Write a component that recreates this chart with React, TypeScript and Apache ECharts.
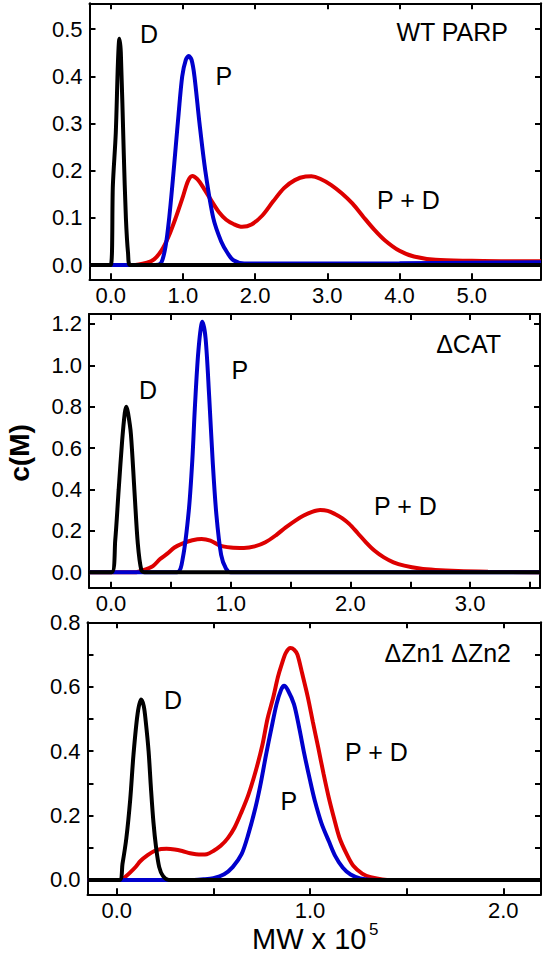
import React, { useEffect, useRef } from "react";
import * as echarts from "echarts";

const FONT = '"Liberation Sans", Arial, Helvetica, sans-serif';
const RED = "#dd0000";
const BLUE = "#0000cc";
const BLACK = "#000000";

// ---- Panel 1: WT PARP ----
const wtD: [number, number][] = [
  [-0.29, 0], [0.0, 0], [0.03, 0.17], [0.07, 0.28], [0.1, 0.43], [0.12, 0.48], [0.14, 0.45],
  [0.18, 0.24], [0.21, 0.1], [0.24, 0.025], [0.27, 0], [5.96, 0],
];
const wtP: [number, number][] = [
  [-0.29, 0], [0.62, 0], [0.7, 0.005], [0.76, 0.04], [0.81, 0.1], [0.86, 0.18], [0.9, 0.25],
  [0.94, 0.32], [0.99, 0.4], [1.04, 0.435], [1.08, 0.443], [1.12, 0.435], [1.16, 0.4],
  [1.23, 0.3], [1.31, 0.2], [1.42, 0.1], [1.53, 0.05], [1.62, 0.025], [1.7, 0.01],
  [1.85, 0.003], [2.5, 0.003], [4.0, 0.004], [5.0, 0.005], [5.96, 0.006],
];
const wtPD: [number, number][] = [
  [-0.29, 0], [0.3, 0], [0.5, 0.005], [0.6, 0.012], [0.7, 0.03], [0.8, 0.06], [0.9, 0.1],
  [1.0, 0.145], [1.07, 0.178], [1.13, 0.189], [1.2, 0.182], [1.3, 0.16], [1.4, 0.135],
  [1.5, 0.112], [1.6, 0.096], [1.7, 0.087], [1.82, 0.081], [1.95, 0.086], [2.1, 0.105],
  [2.25, 0.135], [2.4, 0.163], [2.55, 0.18], [2.7, 0.1875], [2.78, 0.188], [2.9, 0.183],
  [3.05, 0.17], [3.2, 0.152], [3.35, 0.13], [3.5, 0.102], [3.65, 0.075], [3.8, 0.052],
  [4.0, 0.03], [4.2, 0.018], [4.5, 0.011], [5.0, 0.009], [5.5, 0.008], [5.96, 0.008],
];
const wtXTicks = [0, 1, 2, 3, 4, 5];
const wtXLabels = [0, 1, 2, 3, 4, 5];
const wtYTicks = [0, 0.1, 0.2, 0.3, 0.4, 0.5];
const wtYLabels = [0, 0.1, 0.2, 0.3, 0.4, 0.5];

// ---- Panel 2: ΔCAT ----
const catD: [number, number][] = [
  [-0.184, 0], [0.005, 0], [0.035, 0.153], [0.064, 0.4], [0.093, 0.636], [0.115, 0.77],
  [0.128, 0.8], [0.142, 0.77], [0.166, 0.668], [0.195, 0.4], [0.224, 0.137], [0.253, 0.011],
  [0.28, 0], [3.584, 0],
];
const catP: [number, number][] = [
  [-0.184, 0], [0.55, 0], [0.6, 0.07], [0.65, 0.3], [0.68, 0.55], [0.7, 0.79], [0.73, 1.07],
  [0.763, 1.21], [0.79, 1.13], [0.82, 0.85], [0.85, 0.53], [0.88, 0.28], [0.92, 0.084],
  [0.96, 0.018], [1.0, 0], [3.584, 0],
];
const catPD: [number, number][] = [
  [-0.184, 0], [0.2, 0], [0.27, 0.01], [0.35, 0.03], [0.41, 0.064], [0.47, 0.09], [0.53, 0.12],
  [0.6, 0.14], [0.68, 0.155], [0.757, 0.161], [0.83, 0.153], [0.91, 0.129], [1.0, 0.12],
  [1.11, 0.118], [1.2, 0.125], [1.29, 0.145], [1.38, 0.18], [1.46, 0.217], [1.54, 0.25],
  [1.61, 0.274], [1.68, 0.292], [1.747, 0.301], [1.81, 0.297], [1.87, 0.282], [1.93, 0.262],
  [1.99, 0.234], [2.06, 0.19], [2.13, 0.145], [2.2, 0.105], [2.28, 0.072], [2.36, 0.048],
  [2.45, 0.032], [2.58, 0.018], [2.71, 0.011], [2.9, 0.006], [3.15, 0.003], [3.584, 0],
];
const catXTicks = [0, 0.5, 1, 1.5, 2, 2.5, 3, 3.5];
const catXLabels = [0, 1, 2, 3];
const catYTicks = [0, 0.2, 0.4, 0.6, 0.8, 1.0, 1.2];
const catYLabels = [0, 0.2, 0.4, 0.6, 0.8, 1.0, 1.2];

// ---- Panel 3: ΔZn1 ΔZn2 ----
const znD: [number, number][] = [
  [-0.151, 0], [0.014, 0], [0.03, 0.05], [0.05, 0.13], [0.07, 0.25], [0.087, 0.39],
  [0.108, 0.515], [0.126, 0.56], [0.14, 0.54], [0.15, 0.494], [0.165, 0.4], [0.177, 0.287],
  [0.19, 0.18], [0.204, 0.1], [0.22, 0.04], [0.24, 0.012], [0.27, 0], [2.195, 0],
];
const znP: [number, number][] = [
  [-0.151, 0], [0.4, 0], [0.45, 0.002], [0.5, 0.006], [0.556, 0.018], [0.6, 0.04],
  [0.646, 0.08], [0.68, 0.14], [0.718, 0.225], [0.745, 0.3], [0.773, 0.39], [0.8, 0.47],
  [0.827, 0.546], [0.85, 0.59], [0.866, 0.603], [0.885, 0.59], [0.917, 0.546], [0.945, 0.47],
  [0.971, 0.39], [1.0, 0.31], [1.025, 0.246], [1.06, 0.175], [1.097, 0.121], [1.13, 0.075],
  [1.17, 0.038], [1.21, 0.017], [1.26, 0.005], [1.35, 0], [2.195, 0],
];
const znPD: [number, number][] = [
  [-0.151, 0], [0.023, 0], [0.045, 0.01], [0.069, 0.023], [0.1, 0.042], [0.123, 0.059],
  [0.16, 0.077], [0.195, 0.09], [0.23, 0.096], [0.258, 0.097], [0.3, 0.095], [0.339, 0.09],
  [0.38, 0.083], [0.41, 0.08], [0.44, 0.079], [0.466, 0.08], [0.5, 0.09], [0.538, 0.106],
  [0.575, 0.13], [0.61, 0.163], [0.645, 0.21], [0.682, 0.266], [0.72, 0.34], [0.754, 0.42],
  [0.78, 0.5], [0.81, 0.567], [0.834, 0.63], [0.854, 0.67], [0.875, 0.705], [0.899, 0.72],
  [0.918, 0.715], [0.935, 0.7], [0.96, 0.64], [0.989, 0.567], [1.015, 0.49], [1.043, 0.41],
  [1.07, 0.33], [1.097, 0.256], [1.125, 0.19], [1.152, 0.132], [1.19, 0.08], [1.224, 0.044],
  [1.27, 0.02], [1.314, 0.009], [1.42, 0], [2.195, 0],
];
const znXTicks = [0, 0.5, 1, 1.5, 2];
const znXLabels = [0, 1, 2];
const znYTicks = [0, 0.1, 0.2, 0.3, 0.4, 0.5, 0.6, 0.7, 0.8];
const znYLabels = [0, 0.2, 0.4, 0.6, 0.8];

const panelTitles = ["WT PARP", "\u0394CAT", "\u0394Zn1 \u0394Zn2"];

const fmt = (v: number) => Number(v).toFixed(1);

function makeX(grid: number, min: number, max: number, ticks: number[], labels: number[]) {
  const common = {
    type: "value",
    gridIndex: grid,
    min,
    max,
    splitLine: { show: false },
    axisLine: { show: true, onZero: false, lineStyle: { color: BLACK, width: 2 } },
    axisTick: { show: true, inside: true, length: 6, customValues: ticks, lineStyle: { color: BLACK, width: 2 } },
  };
  return [
    {
      ...common,
      position: "bottom",
      axisLabel: {
        show: true, customValues: labels, formatter: fmt, color: BLACK,
        fontSize: 22, fontFamily: FONT, margin: 5,
      },
    },
    { ...common, position: "top", axisLabel: { show: false } },
  ];
}

function makeY(grid: number, min: number, max: number, ticks: number[], labels: number[]) {
  const common = {
    type: "value",
    gridIndex: grid,
    min,
    max,
    splitLine: { show: false },
    axisLine: { show: true, onZero: false, lineStyle: { color: BLACK, width: 2 } },
    axisTick: { show: true, inside: true, length: 6, customValues: ticks, lineStyle: { color: BLACK, width: 2 } },
  };
  return [
    {
      ...common,
      position: "left",
      axisLabel: {
        show: true, customValues: labels, formatter: fmt, color: BLACK,
        fontSize: 22, fontFamily: FONT, margin: 7,
      },
    },
    { ...common, position: "right", axisLabel: { show: false } },
  ];
}

function line(data: [number, number][], color: string, axis: number, z: number) {
  return {
    type: "line",
    data,
    xAxisIndex: axis,
    yAxisIndex: axis,
    showSymbol: false,
    symbol: "none",
    smooth: 0.3,
    lineStyle: { color, width: 4 },
    itemStyle: { color },
    z,
    clip: true,
    animation: false,
  };
}

function label(text: string, x: number, y: number, size: number, align: string = "left") {
  return {
    type: "text",
    x,
    y,
    z: 100,
    style: {
      text,
      font: `${size}px ${FONT}`,
      fill: BLACK,
      align,
      verticalAlign: "middle",
      textAlign: align,
      textVerticalAlign: "middle",
    },
  };
}

export default function App() {
  const ref = useRef<HTMLDivElement>(null);
  useEffect(() => {
    if (!ref.current) return;
    const chart = echarts.init(ref.current, undefined, { renderer: "svg" });
    const option: any = {
      animation: false,
      backgroundColor: "#ffffff",
      grid: [
        { left: 89.5, top: 3.3, width: 451.5, height: 276, containLabel: false, outerBoundsMode: "none" },
        { left: 89, top: 314, width: 451, height: 273.7, containLabel: false, outerBoundsMode: "none" },
        { left: 87.5, top: 622.3, width: 453.5, height: 272, containLabel: false, outerBoundsMode: "none" },
      ],
      xAxis: [
        ...makeX(0, -0.294, 5.96, wtXTicks, wtXLabels),
        ...makeX(1, -0.184, 3.584, catXTicks, catXLabels),
        ...makeX(2, -0.151, 2.195, znXTicks, znXLabels),
      ],
      yAxis: [
        ...makeY(0, -0.0303, 0.555, wtYTicks, wtYLabels),
        ...makeY(1, -0.0744, 1.248, catYTicks, catYLabels),
        ...makeY(2, -0.0444, 0.8, znYTicks, znYLabels),
      ],
      series: [
        line(wtPD, RED, 0, 2),
        line(wtP, BLUE, 0, 3),
        line(wtD, BLACK, 0, 4),
        line(catPD, RED, 2, 2),
        line(catP, BLUE, 2, 3),
        line(catD, BLACK, 2, 4),
        line(znPD, RED, 4, 2),
        line(znP, BLUE, 4, 3),
        line(znD, BLACK, 4, 4),
      ],
      graphic: [
        label(panelTitles[0], 508, 31.5, 25, "right"),
        label("D", 140, 33.5, 25),
        label("P", 215.5, 75.5, 25),
        label("P + D", 377, 200, 25),
        label(panelTitles[1], 501, 343.5, 25, "right"),
        label("P", 231.5, 370, 25),
        label("D", 139, 389.5, 25),
        label("P + D", 374, 505.5, 25),
        label(panelTitles[2], 511, 653, 25, "right"),
        label("D", 164, 699.5, 25),
        label("P + D", 345, 752, 25),
        label("P", 280.5, 801, 25),
        {
          type: "text",
          x: 19,
          y: 453,
          rotation: Math.PI / 2,
          z: 100,
          style: {
            text: "c(M)",
            font: `bold 28px ${FONT}`,
            fill: BLACK,
            align: "center",
            verticalAlign: "middle",
            textAlign: "center",
            textVerticalAlign: "middle",
          },
        },
        label("MW x 10", 252, 939, 29),
        label("5", 369, 929.5, 17),
      ],
    };
    chart.setOption(option);
    return () => chart.dispose();
  }, []);
  return (
    <div
      ref={ref}
      style={{ position: "absolute", left: 0, top: 0, width: 548, height: 955, background: "#fff" }}
    />
  );
}
